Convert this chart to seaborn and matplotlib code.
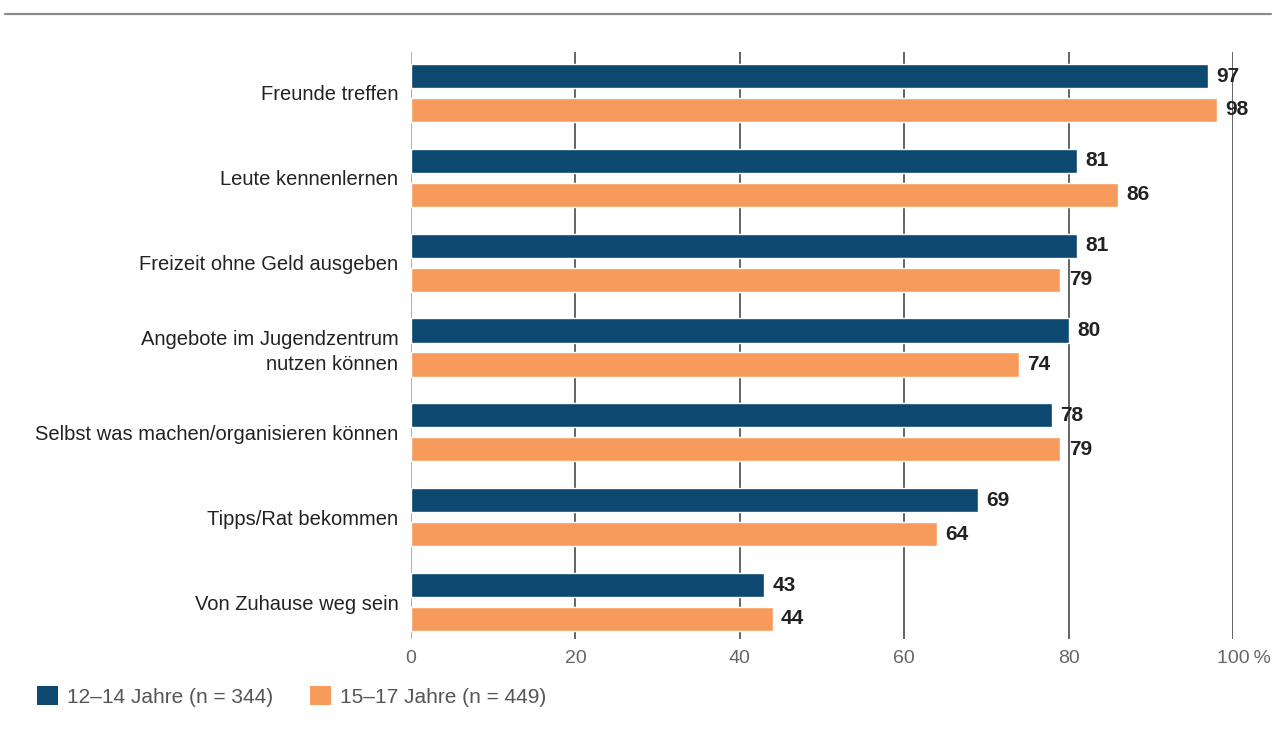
import matplotlib
matplotlib.use("Agg")
import matplotlib.pyplot as plt
import matplotlib.transforms as mtransforms
import seaborn as sns
import pandas as pd
from matplotlib.patches import Patch
from matplotlib.lines import Line2D

categories = [
    "Freunde treffen",
    "Leute kennenlernen",
    "Freizeit ohne Geld ausgeben",
    "Angebote im Jugendzentrum\nnutzen können",
    "Selbst was machen/organisieren können",
    "Tipps/Rat bekommen",
    "Von Zuhause weg sein",
]
series_names = ["12–14 Jahre (n = 344)", "15–17 Jahre (n = 449)"]
values_12_14 = [97, 81, 81, 80, 78, 69, 43]
values_15_17 = [98, 86, 79, 74, 79, 64, 44]
xticks = [0, 20, 40, 60, 80, 100]
xtick_labels = ["0", "20", "40", "60", "80", "100\u2009%"]

colors = ["#0c4870", "#f69b5c"]

df = pd.DataFrame({
    "cat": categories * 2,
    "group": [series_names[0]] * len(categories) + [series_names[1]] * len(categories),
    "value": values_12_14 + values_15_17,
})

sns.set_style("white")
plt.rcParams["font.family"] = ["Liberation Sans", "DejaVu Sans"]

fig = plt.figure(figsize=(12.76, 7.29), dpi=100)
ax = fig.add_axes([411 / 1276, 1 - 639 / 729, (1233 - 411) / 1276, (639 - 52) / 729])

sns.barplot(data=df, y="cat", x="value", hue="group", order=categories,
            hue_order=series_names, palette=colors, orient="h",
            width=0.8, gap=0.29, saturation=1, legend=False, ax=ax, zorder=3)

ax.set_xlim(0, 100)
ax.set_ylim(6.436, -0.483)
ax.set_xlabel("")
ax.set_ylabel("")
for s in ax.spines.values():
    s.set_visible(False)

for x in xticks:
    ax.axvline(x, color="#999999" if x == 0 else "#3a3a3a", lw=1.1, zorder=1)

ax.set_xticks(xticks)
ax.set_xticklabels(xtick_labels, fontsize=14, color="#666666")
ax.tick_params(axis="x", length=0, pad=8)
ax.tick_params(axis="y", length=0, pad=9, labelsize=14.5, labelcolor="#222222")
for lbl in ax.get_yticklabels():
    lbl.set_linespacing(1.35)
last = ax.get_xticklabels()[-1]
last.set_horizontalalignment("left")
last.set_transform(last.get_transform() +
                   mtransforms.ScaledTranslation(-16 / 100, 0, fig.dpi_scale_trans))

for container in ax.containers:
    ax.bar_label(container, fmt="%d", padding=6, fontsize=15,
                 fontweight="bold", color="#222222")

# top rule
fig.add_artist(Line2D([5 / 1276, 1271 / 1276], [1 - 13.5 / 729] * 2,
                      transform=fig.transFigure, color="#8c8c8c", lw=1.6))

handles = [Patch(facecolor=c, edgecolor="none", label=n) for c, n in zip(colors, series_names)]
fig.legend(handles=handles, loc="center left", bbox_to_anchor=(37 / 1276, 1 - 696.5 / 729),
           ncol=2, frameon=False, fontsize=15, labelcolor="#555555",
           handlelength=1.0, handleheight=1.0, handletextpad=0.45, columnspacing=1.75,
           borderaxespad=0, borderpad=0)

fig.savefig("out.png", dpi=100)
